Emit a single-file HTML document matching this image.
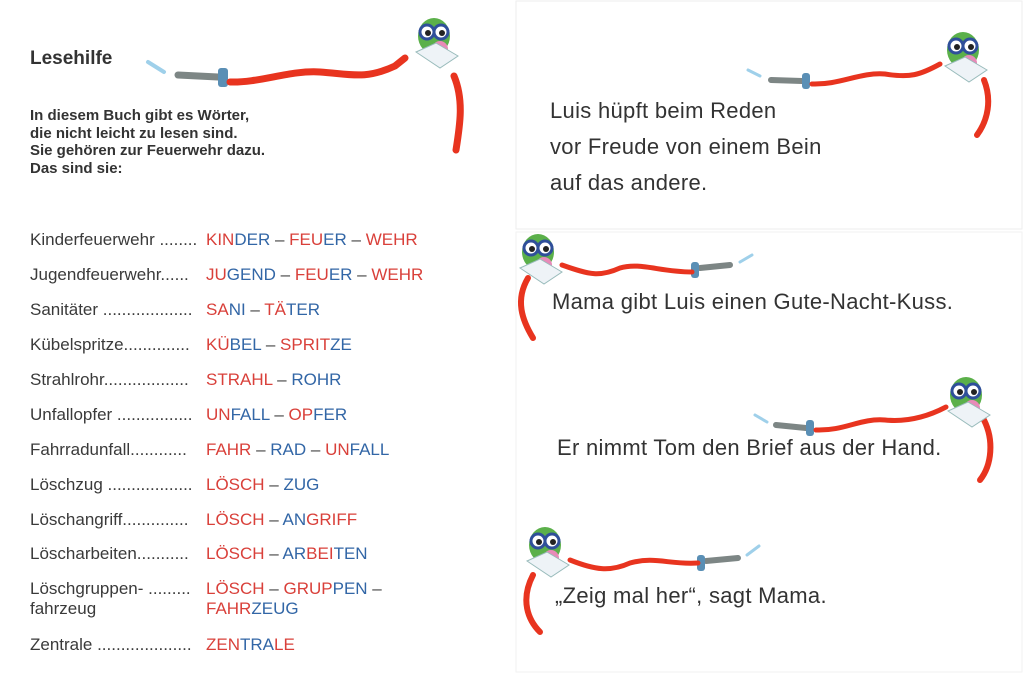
<!DOCTYPE html>
<html><head><meta charset="utf-8"><style>
body{margin:0;width:1024px;height:679px;background:#fff;position:relative;overflow:hidden;font-family:"Liberation Sans",sans-serif;color:#333}
.a{position:absolute;white-space:nowrap}
.t{font-size:17px;color:#3a3a3a}
.r{color:#d9403a}.b{color:#3266a6}.d{color:#444}
.s{font-size:22px;letter-spacing:0.3px;color:#333;position:absolute;white-space:nowrap}
svg{position:absolute;left:0;top:0}
</style></head><body>
<svg width="1024" height="679">
<defs>
<g id="owl">
<ellipse cx="0" cy="0" rx="16" ry="18" fill="#5bb04a"/>
<circle cx="-7" cy="-4" r="7" fill="#fff" stroke="#2f4f9a" stroke-width="3"/>
<circle cx="7" cy="-4" r="7" fill="#fff" stroke="#2f4f9a" stroke-width="3"/>
<circle cx="-6" cy="-3" r="3" fill="#222"/><circle cx="8" cy="-3" r="3" fill="#222"/>
<circle cx="6" cy="13" r="8" fill="#e88ab8"/>
<path d="M-18 16 L6 32 L24 20 L2 7 Z" fill="#eef3f7" stroke="#9bb" stroke-width="1"/>
</g>
</defs>
<rect x="516" y="1" width="506" height="228" fill="none" stroke="#eee"/>
<rect x="516" y="232" width="506" height="440" fill="none" stroke="#f2f2f2"/>
<!-- hose 1 -->
<path d="M148 62 L164 72" stroke="#9fd0ea" stroke-width="4" stroke-linecap="round"/>
<path d="M178 75 L218 77" stroke="#7d8685" stroke-width="7" stroke-linecap="round"/>
<rect x="218" y="68" width="10" height="19" rx="3" fill="#5a8fb5"/>
<path d="M230 82 C260 83 290 70 320 72 C350 74 365 80 395 66 L405 58" stroke="#e8341f" stroke-width="7" fill="none" stroke-linecap="round"/>
<path d="M454 76 C464 100 460 125 456 150" stroke="#e8341f" stroke-width="7" fill="none" stroke-linecap="round"/>
<use href="#owl" x="434" y="36"/>
<!-- hose 2 -->
<path d="M748 70 L760 76" stroke="#9fd0ea" stroke-width="3" stroke-linecap="round"/>
<path d="M771 80 L802 81" stroke="#7d8685" stroke-width="6" stroke-linecap="round"/>
<rect x="802" y="73" width="8" height="16" rx="3" fill="#5a8fb5"/>
<path d="M812 84 C840 85 860 72 885 74 C910 78 920 75 940 64" stroke="#e8341f" stroke-width="5" fill="none" stroke-linecap="round"/>
<path d="M984 80 C992 100 988 120 977 135" stroke="#e8341f" stroke-width="6" fill="none" stroke-linecap="round"/>
<use href="#owl" x="963" y="50"/>
<!-- hose 3 -->
<path d="M740 262 L752 255" stroke="#9fd0ea" stroke-width="3" stroke-linecap="round"/>
<path d="M700 268 L730 265" stroke="#7d8685" stroke-width="6" stroke-linecap="round"/>
<rect x="691" y="262" width="8" height="16" rx="3" fill="#5a8fb5"/>
<path d="M562 265 C590 275 600 277 620 268 C640 262 660 272 692 272" stroke="#e8341f" stroke-width="5" fill="none" stroke-linecap="round"/>
<path d="M528 278 C515 300 522 320 533 338" stroke="#e8341f" stroke-width="6" fill="none" stroke-linecap="round"/>
<use href="#owl" x="538" y="252"/>
<!-- hose 4 -->
<path d="M755 415 L767 422" stroke="#9fd0ea" stroke-width="3" stroke-linecap="round"/>
<path d="M776 425 L806 428" stroke="#7d8685" stroke-width="6" stroke-linecap="round"/>
<rect x="806" y="420" width="8" height="16" rx="3" fill="#5a8fb5"/>
<path d="M816 430 C845 431 860 418 885 420 C905 422 925 418 946 407" stroke="#e8341f" stroke-width="5" fill="none" stroke-linecap="round"/>
<path d="M984 420 C994 440 992 465 980 480" stroke="#e8341f" stroke-width="6" fill="none" stroke-linecap="round"/>
<use href="#owl" x="966" y="395"/>
<!-- hose 5 -->
<path d="M747 555 L759 546" stroke="#9fd0ea" stroke-width="3" stroke-linecap="round"/>
<path d="M706 561 L738 558" stroke="#7d8685" stroke-width="6" stroke-linecap="round"/>
<rect x="697" y="555" width="8" height="16" rx="3" fill="#5a8fb5"/>
<path d="M570 560 C595 570 610 572 630 563 C655 556 670 565 698 563" stroke="#e8341f" stroke-width="5" fill="none" stroke-linecap="round"/>
<path d="M533 575 C520 600 528 620 540 632" stroke="#e8341f" stroke-width="6" fill="none" stroke-linecap="round"/>
<use href="#owl" x="545" y="545"/>
</svg>

<div class="a" style="left:30px;top:48px;font-size:19px;font-weight:bold;color:#333">Lesehilfe</div>
<div class="a" style="left:30px;top:107px;font-size:15px;font-weight:bold;line-height:17.5px;color:#333">In diesem Buch gibt es Wörter,<br>die nicht leicht zu lesen sind.<br>Sie gehören zur Feuerwehr dazu.<br>Das sind sie:</div>

<div class="a t" style="left:30px;top:230px">Kinderfeuerwehr ........</div><div class="a t" style="left:206px;top:230px"><span class="r">KIN</span><span class="b">DER</span><span class="d"> – </span><span class="r">FEU</span><span class="b">ER</span><span class="d"> – </span><span class="r">WEHR</span></div>
<div class="a t" style="left:30px;top:265px">Jugendfeuerwehr......</div><div class="a t" style="left:206px;top:265px"><span class="r">JU</span><span class="b">GEND</span><span class="d"> – </span><span class="r">FEU</span><span class="b">ER</span><span class="d"> – </span><span class="r">WEHR</span></div>
<div class="a t" style="left:30px;top:300px">Sanitäter ...................</div><div class="a t" style="left:206px;top:300px"><span class="r">SA</span><span class="b">NI</span><span class="d"> – </span><span class="r">TÄ</span><span class="b">TER</span></div>
<div class="a t" style="left:30px;top:335px">Kübelspritze..............</div><div class="a t" style="left:206px;top:335px"><span class="r">KÜ</span><span class="b">BEL</span><span class="d"> – </span><span class="r">SPRIT</span><span class="b">ZE</span></div>
<div class="a t" style="left:30px;top:370px">Strahlrohr..................</div><div class="a t" style="left:206px;top:370px"><span class="r">STRAHL</span><span class="d"> – </span><span class="b">ROHR</span></div>
<div class="a t" style="left:30px;top:405px">Unfallopfer ................</div><div class="a t" style="left:206px;top:405px"><span class="r">UN</span><span class="b">FALL</span><span class="d"> – </span><span class="r">OP</span><span class="b">FER</span></div>
<div class="a t" style="left:30px;top:440px">Fahrradunfall............</div><div class="a t" style="left:206px;top:440px"><span class="r">FAHR</span><span class="d"> – </span><span class="b">RAD</span><span class="d"> – </span><span class="r">UN</span><span class="b">FALL</span></div>
<div class="a t" style="left:30px;top:475px">Löschzug ..................</div><div class="a t" style="left:206px;top:475px"><span class="r">LÖSCH</span><span class="d"> – </span><span class="b">ZUG</span></div>
<div class="a t" style="left:30px;top:510px">Löschangriff..............</div><div class="a t" style="left:206px;top:510px"><span class="r">LÖSCH</span><span class="d"> – </span><span class="b">AN</span><span class="r">GRIFF</span></div>
<div class="a t" style="left:30px;top:544px">Löscharbeiten...........</div><div class="a t" style="left:206px;top:544px"><span class="r">LÖSCH</span><span class="d"> – </span><span class="b">AR</span><span class="r">BEI</span><span class="b">TEN</span></div>
<div class="a t" style="left:30px;top:579px;line-height:20px">Löschgruppen- .........<br>fahrzeug</div><div class="a t" style="left:206px;top:579px;line-height:20px"><span class="r">LÖSCH</span><span class="d"> – </span><span class="r">GRUP</span><span class="b">PEN</span><span class="d"> –</span><br><span class="r">FAHR</span><span class="b">ZEUG</span></div>
<div class="a t" style="left:30px;top:635px">Zentrale ....................</div><div class="a t" style="left:206px;top:635px"><span class="r">ZEN</span><span class="b">TRA</span><span class="r">LE</span></div>

<div class="s" style="left:550px;top:93px;line-height:36px">Luis hüpft beim Reden<br>vor Freude von einem Bein<br>auf das andere.</div>
<div class="s" style="left:552px;top:289px">Mama gibt Luis einen Gute-Nacht-Kuss.</div>
<div class="s" style="left:557px;top:435px">Er nimmt Tom den Brief aus der Hand.</div>
<div class="s" style="left:555px;top:583px">„Zeig mal her“, sagt Mama.</div>
</body></html>
